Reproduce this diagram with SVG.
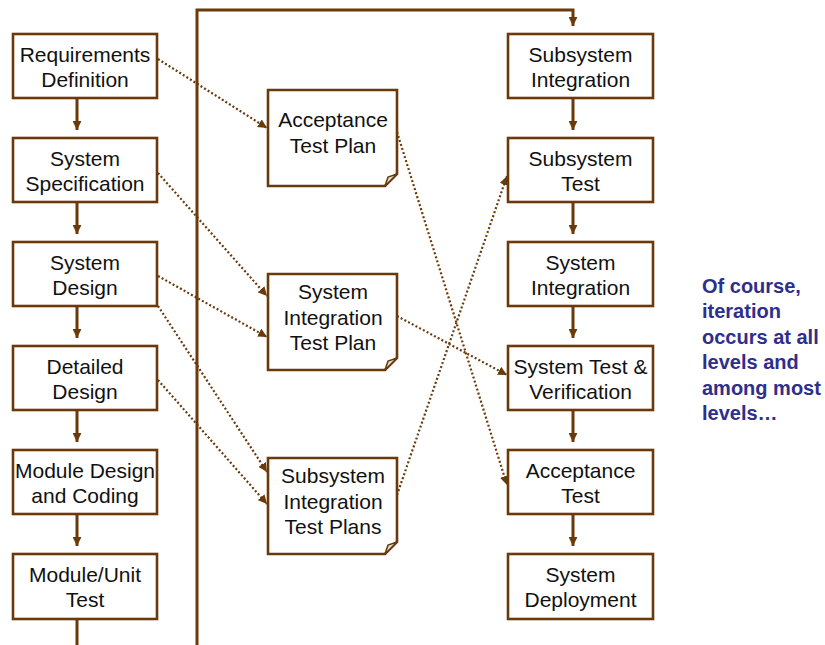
<svg xmlns="http://www.w3.org/2000/svg" width="825" height="645" viewBox="0 0 825 645">
<defs>
<marker id="ah" markerUnits="userSpaceOnUse" markerWidth="10" markerHeight="9" refX="9" refY="4.5" orient="auto">
<path d="M0,0 L9,4.5 L0,9 Z" fill="#6b3a0b"/>
</marker>
<style>
.box{fill:#fff;stroke:#6b3a0b;stroke-width:2.6}
.fold{fill:#d9d9d9;stroke:#6b3a0b;stroke-width:1.5}
.t{font-family:"Liberation Sans",Arial,sans-serif;font-size:21px;fill:#111;text-anchor:middle}
.solid{stroke:#6b3a0b;stroke-width:3;fill:none}
.dot{stroke:#6b3a0b;stroke-width:2.2;stroke-dasharray:2 2.2;fill:none}
.note{font-family:"Liberation Sans",Arial,sans-serif;font-size:20px;font-weight:bold;fill:#2e2e8c}
</style>
</defs>
<rect width="825" height="645" fill="#fff"/>

<g id="connectors">
<path class="solid" d="M197,645 V10 H573 V26" marker-end="url(#ah)"/>
<path class="solid" d="M77,98 V130" marker-end="url(#ah)"/>
<path class="solid" d="M77,202 V234" marker-end="url(#ah)"/>
<path class="solid" d="M77,306 V338" marker-end="url(#ah)"/>
<path class="solid" d="M77,410 V442" marker-end="url(#ah)"/>
<path class="solid" d="M77,514 V546" marker-end="url(#ah)"/>
<path class="solid" d="M77,619 V645"/>
<path class="solid" d="M573,98 V130" marker-end="url(#ah)"/>
<path class="solid" d="M573,202 V234" marker-end="url(#ah)"/>
<path class="solid" d="M573,306 V338" marker-end="url(#ah)"/>
<path class="solid" d="M573,410 V442" marker-end="url(#ah)"/>
<path class="solid" d="M573,514 V546" marker-end="url(#ah)"/>
<path class="dot" d="M158,59 L267,128" marker-end="url(#ah)"/>
<path class="dot" d="M158,173 L267,296" marker-end="url(#ah)"/>
<path class="dot" d="M158,276 L267,337" marker-end="url(#ah)"/>
<path class="dot" d="M158,306 L267,472" marker-end="url(#ah)"/>
<path class="dot" d="M158,380 L267,504" marker-end="url(#ah)"/>
<path class="dot" d="M397,132 L507,485" marker-end="url(#ah)"/>
<path class="dot" d="M397,316 L507,375" marker-end="url(#ah)"/>
<path class="dot" d="M397,495 L507,176" marker-end="url(#ah)"/>
</g>

<g id="requirements-definition"><rect class="box" x="13" y="34" width="144" height="64"/><text class="t" x="85" y="62">Requirements</text><text class="t" x="85" y="87">Definition</text></g>
<g id="system-specification"><rect class="box" x="13" y="138" width="144" height="64"/><text class="t" x="85" y="166">System</text><text class="t" x="85" y="191">Specification</text></g>
<g id="system-design"><rect class="box" x="13" y="242" width="144" height="64"/><text class="t" x="85" y="270">System</text><text class="t" x="85" y="295">Design</text></g>
<g id="detailed-design"><rect class="box" x="13" y="346" width="144" height="64"/><text class="t" x="85" y="374">Detailed</text><text class="t" x="85" y="399">Design</text></g>
<g id="module-design"><rect class="box" x="13" y="450" width="144" height="64"/><text class="t" x="85" y="478">Module Design</text><text class="t" x="85" y="503">and Coding</text></g>
<g id="module-unit-test"><rect class="box" x="13" y="554" width="144" height="65"/><text class="t" x="85" y="582">Module/Unit</text><text class="t" x="85" y="607">Test</text></g>

<g id="acceptance-test-plan"><path class="box" d="M268,90 H397 V174 L385,186 H268 Z"/><path class="fold" d="M397,174 L385,186 L388,177 Z"/><text class="t" x="333" y="127">Acceptance</text><text class="t" x="333" y="153">Test Plan</text></g>
<g id="system-integration-test-plan"><path class="box" d="M268,274 H397 V358 L385,370 H268 Z"/><path class="fold" d="M397,358 L385,370 L388,361 Z"/><text class="t" x="333" y="299">System</text><text class="t" x="333" y="324.5">Integration</text><text class="t" x="333" y="350">Test Plan</text></g>
<g id="subsystem-integration-test-plans"><path class="box" d="M268,458 H397 V542 L385,554 H268 Z"/><path class="fold" d="M397,542 L385,554 L388,545 Z"/><text class="t" x="333" y="483">Subsystem</text><text class="t" x="333" y="508.5">Integration</text><text class="t" x="333" y="534">Test Plans</text></g>

<g id="subsystem-integration"><rect class="box" x="508" y="34" width="145" height="64"/><text class="t" x="580.5" y="62">Subsystem</text><text class="t" x="580.5" y="87">Integration</text></g>
<g id="subsystem-test"><rect class="box" x="508" y="138" width="145" height="64"/><text class="t" x="580.5" y="166">Subsystem</text><text class="t" x="580.5" y="191">Test</text></g>
<g id="system-integration"><rect class="box" x="508" y="242" width="145" height="64"/><text class="t" x="580.5" y="270">System</text><text class="t" x="580.5" y="295">Integration</text></g>
<g id="system-test-verification"><rect class="box" x="508" y="346" width="145" height="64"/><text class="t" x="580.5" y="374">System Test &amp;</text><text class="t" x="580.5" y="399">Verification</text></g>
<g id="acceptance-test"><rect class="box" x="508" y="450" width="145" height="64"/><text class="t" x="580.5" y="478">Acceptance</text><text class="t" x="580.5" y="503">Test</text></g>
<g id="system-deployment"><rect class="box" x="508" y="554" width="145" height="65"/><text class="t" x="580.5" y="582">System</text><text class="t" x="580.5" y="607">Deployment</text></g>

<g id="note">
<text class="note" x="702" y="293">Of course,</text>
<text class="note" x="702" y="318.4">iteration</text>
<text class="note" x="702" y="343.8">occurs at all</text>
<text class="note" x="702" y="369.2">levels and</text>
<text class="note" x="702" y="394.6">among most</text>
<text class="note" x="702" y="420">levels…</text>
</g>
</svg>
